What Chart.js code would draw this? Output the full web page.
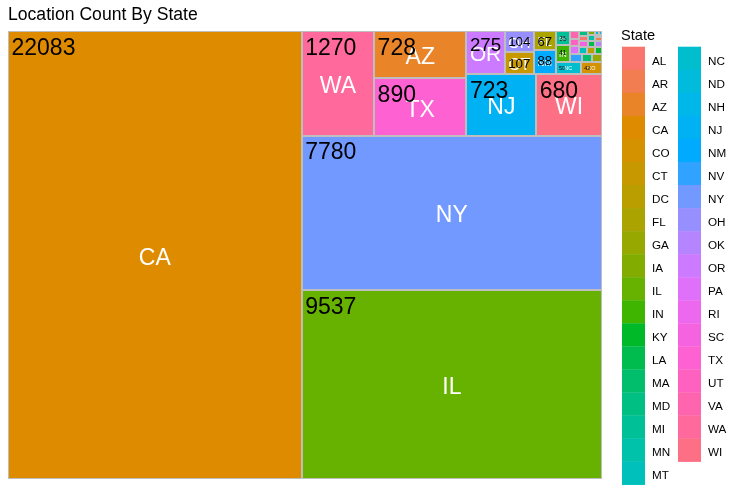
<!DOCTYPE html>
<html>
<head>
<meta charset="utf-8">
<script src="https://cdn.jsdelivr.net/npm/chart.js@4/dist/chart.umd.min.js"></script>
<style>
  html, body { margin: 0; padding: 0; background: #ffffff; }
  #wrap { width: 741px; height: 486px; position: relative; }
</style>
</head>
<body>
<div id="wrap"><canvas id="chart" width="741" height="486"></canvas></div>
<script>
// ---------------- data ----------------
const chartTitle = 'Location Count By State';
const legendTitle = 'State';
const states = ['AL','AR','AZ','CA','CO','CT','DC','FL','GA','IA','IL','IN','KY','LA','MA','MD','MI','MN','MT',
                'NC','ND','NH','NJ','NM','NV','NY','OH','OK','OR','PA','RI','SC','TX','UT','VA','WA','WI'];
const counts = [8, 4, 728, 22083, 42, 107, 9, 67, 13, 5, 9537, 41, 9, 7, 14, 8, 35, 6, 10,
                50, 2, 2, 723, 88, 16, 7780, 104, 7, 275, 12, 3, 9, 890, 11, 11, 1270, 680];

// ---------------- helpers ----------------
const FONT = '"Liberation Sans", Arial, Helvetica, sans-serif';

// ggplot2 default hue palette (hcl, c=100, l=65)
function hclHex(h, c, l) {
  const hr = h * Math.PI / 180;
  const U = c * Math.cos(hr), V = c * Math.sin(hr);
  const Xn = 95.047, Yn = 100.0, Zn = 108.883;
  const Y = Yn * (l > 7.999592 ? Math.pow((l + 16) / 116, 3) : l / 903.3);
  const den = Xn + 15 * Yn + 3 * Zn;
  const un = 4 * Xn / den, vn = 9 * Yn / den;
  const up = U / (13 * l) + un, vp = V / (13 * l) + vn;
  const X = Y * 9 * up / (4 * vp);
  const Z = Y * (12 - 3 * up - 20 * vp) / (4 * vp);
  const x = X / 100, y = Y / 100, z = Z / 100;
  const lin = [
    3.240479 * x - 1.537150 * y - 0.498535 * z,
    -0.969256 * x + 1.875992 * y + 0.041556 * z,
    0.055648 * x - 0.204043 * y + 1.057311 * z
  ];
  return '#' + lin.map(v => {
    let g = v <= 0.0031308 ? 12.92 * v : 1.055 * Math.pow(Math.max(v, 0), 1 / 2.4) - 0.055;
    g = Math.round(Math.min(1, Math.max(0, g)) * 255);
    return g.toString(16).padStart(2, '0');
  }).join('');
}
function huePal(n) {
  const out = [];
  for (let i = 0; i < n; i++) out.push(hclHex(15 + 360 * i / n, 100, 65));
  return out;
}
const colors = huePal(states.length);

function aspect(a, sum, side) {
  const t = sum / side, len = a / t;
  return Math.max(t / len, len / t);
}
// squarified layout in unit square, starting bottom-left
function squarify(items, x0, y0, x1, y1) {
  const out = [];
  let i = 0;
  while (i < items.length) {
    const w = x1 - x0, h = y1 - y0;
    const vertical = h <= w;
    const side = vertical ? h : w;
    let sum = items[i].a, last = aspect(items[i].a, sum, side), j = i + 1;
    while (j < items.length) {
      const s2 = sum + items[j].a;
      const r2 = aspect(items[j].a, s2, side);
      if (r2 > last) break;
      sum = s2; last = r2; j++;
    }
    const t = sum / side;
    let pos = vertical ? y0 : x0;
    for (let k = i; k < j; k++) {
      const len = items[k].a / t;
      if (vertical) out.push(Object.assign({}, items[k], {x0: x0, x1: x0 + t, y0: pos, y1: pos + len}));
      else out.push(Object.assign({}, items[k], {x0: pos, x1: pos + len, y0: y0, y1: y0 + t}));
      pos += len;
    }
    if (vertical) x0 += t; else y0 += t;
    i = j;
  }
  return out;
}

const total = counts.reduce((s, v) => s + v, 0);
const items = states.map((s, i) => ({state: s, value: counts[i], a: counts[i] / total, color: colors[i], idx: i}))
  .sort((p, q) => q.value - p.value || p.idx - q.idx);
const tiles = squarify(items, 0, 0, 1, 1);

// ---------------- plugins ----------------
const BASE = 23, PAD = 3.5, MIN_FS = 5.33;
function fitSize(ctx, text, w, h) {
  ctx.font = BASE + 'px ' + FONT;
  const tw = ctx.measureText(text).width;
  return Math.min(BASE, (w - 2 * PAD) / tw * BASE, (h - 2 * PAD) / 0.88);
}

const treemapPlugin = {
  id: 'treemap',
  afterDatasetsDraw(chart) {
    const ctx = chart.ctx, xs = chart.scales.x, ys = chart.scales.y;
    const boxes = tiles.map(t => {
      const l = xs.getPixelForValue(t.x0), r = xs.getPixelForValue(t.x1);
      const top = ys.getPixelForValue(t.y1), bot = ys.getPixelForValue(t.y0);
      return {t, l, r, top, bot, w: r - l, h: bot - top};
    });
    ctx.save();
    boxes.forEach(b => {
      ctx.fillStyle = b.t.color;
      ctx.fillRect(b.l, b.top, b.w, b.h);
    });
    ctx.strokeStyle = '#BEBEBE';
    ctx.lineWidth = 1;
    boxes.forEach(b => {
      const l = Math.round(b.l) + 0.5, t = Math.round(b.top) + 0.5;
      const r = Math.round(b.r) - 0.5, bt = Math.round(b.bot) - 0.5;
      ctx.strokeRect(l, t, Math.max(0, r - l), Math.max(0, bt - t));
    });
    ctx.textBaseline = 'alphabetic';
    // state labels (centre, white)
    ctx.textAlign = 'center';
    boxes.forEach(b => {
      const txt = b.t.state;
      const fs = fitSize(ctx, txt, b.w, b.h);
      if (fs < MIN_FS) return;
      ctx.font = fs + 'px ' + FONT;
      ctx.fillStyle = '#FFFFFF';
      ctx.fillText(txt, b.l + b.w / 2, b.top + b.h / 2 + 0.358 * fs + 1.5 * fs / BASE);
    });
    // value labels (top-left, black)
    ctx.textAlign = 'left';
    boxes.forEach(b => {
      const txt = String(b.t.value);
      const fs = fitSize(ctx, txt, b.w, b.h);
      if (fs < MIN_FS) return;
      ctx.font = fs + 'px ' + FONT;
      ctx.fillStyle = '#000000';
      ctx.fillText(txt, b.l + PAD, b.top + PAD + 0.88 * fs);
    });
    ctx.restore();
  }
};

const legendPlugin = {
  id: 'stateLegend',
  afterDraw(chart) {
    const ctx = chart.ctx;
    const colX = [622, 678], keyW = 23, keyH = 23.05, keyTop = 46.7, perCol = 19;
    ctx.save();
    ctx.fillStyle = '#000000';
    ctx.font = '14.6px ' + FONT;
    ctx.textAlign = 'left';
    ctx.textBaseline = 'alphabetic';
    ctx.fillText(legendTitle, 621, 40);
    ctx.font = '11.7px ' + FONT;
    states.forEach((s, i) => {
      const col = Math.floor(i / perCol), row = i % perCol;
      const x = colX[col], y = keyTop + row * keyH;
      ctx.fillStyle = colors[i];
      ctx.fillRect(x, y, keyW, keyH + 0.3);
      ctx.fillStyle = '#000000';
      ctx.fillText(s, x + 30, y + 17.8);
    });
    ctx.restore();
  }
};

// ---------------- chart ----------------
new Chart(document.getElementById('chart'), {
  type: 'scatter',
  data: { datasets: [{ label: 'tiles', data: [], pointRadius: 0 }] },
  options: {
    responsive: false,
    animation: false,
    devicePixelRatio: 1,
    layout: { padding: { left: 8, right: 139, top: 0, bottom: 7 } },
    scales: {
      x: { type: 'linear', min: 0, max: 1, display: false },
      y: { type: 'linear', min: 0, max: 1, display: false }
    },
    plugins: {
      legend: { display: false },
      tooltip: { enabled: false },
      title: {
        display: true,
        text: chartTitle,
        align: 'start',
        color: '#000000',
        font: { family: FONT, size: 17.6, weight: 'normal', lineHeight: 1.2 },
        padding: { top: 5, bottom: 5 }
      }
    }
  },
  plugins: [treemapPlugin, legendPlugin]
});
</script>
</body>
</html>
